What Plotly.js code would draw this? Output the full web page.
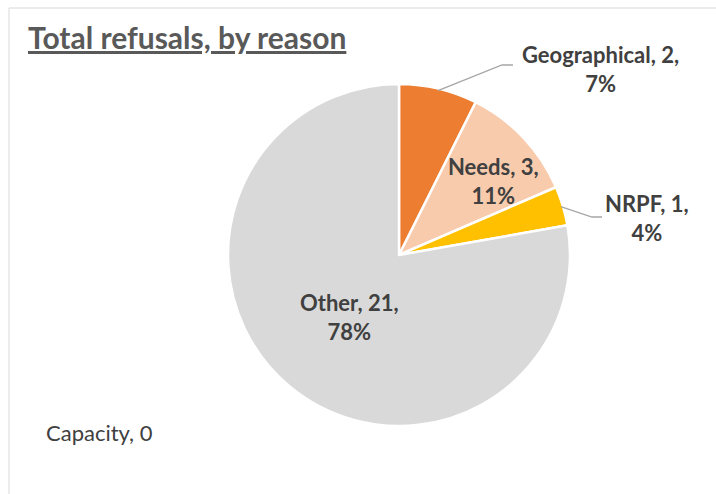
<!DOCTYPE html>
<html>
<head>
<meta charset="utf-8">
<script src="https://cdn.plot.ly/plotly-3.0.1.min.js"></script>
<style>html,body{margin:0;padding:0;background:#fff;}#chart{width:716px;height:494px;}</style>
</head>
<body>
<div id="chart"></div>
<script>
const categories = ["Capacity", "Geographical", "Needs", "NRPF", "Other"];
const values = [0, 2, 3, 1, 21];
const percentLabels = ["0%", "7%", "11%", "4%", "78%"];
const sliceColors = ["#A5A5A5", "#ED7D31", "#F8CBAD", "#FFC000", "#D9D9D9"];
const chartTitle = "Total refusals, by reason";

const W = 716, H = 494;
const px = x => x / W;
const py = y => 1 - y / H;

// pie geometry (pixels)
const cx = 399, cy = 255, R = 171;

const total = values.reduce((a, b) => a + b, 0);
const cum = [];
let acc = 0;
values.forEach(v => { cum.push(acc); acc += v; });
function midAngle(i) { return (cum[i] + values[i] / 2) / total * 2 * Math.PI; }
function edgePoint(i, r) {
  const a = midAngle(i);
  return [cx + Math.sin(a) * r, cy - Math.cos(a) * r];
}
function labelText(i) {
  return categories[i] + ", " + values[i] + ",<br>" + percentLabels[i];
}

const FAMILY = "Lato, 'Open Sans', sans-serif";
const labelFont = {family: FAMILY, size: 22, color: "#404040"};
const annotations = [];
const shapes = [];

// chart border
shapes.push({type: "rect", xref: "paper", yref: "paper", x0: px(9), x1: px(740), y0: py(8), y1: py(520),
  line: {color: "#D9D9D9", width: 1}, fillcolor: "rgba(0,0,0,0)"});

// title
annotations.push({xref: "paper", yref: "paper", x: px(26), y: py(37), xanchor: "left", yanchor: "middle",
  showarrow: false, text: "<b><u>" + chartTitle + "</u></b>",
  font: {family: FAMILY, size: 30, color: "#595959"}});

// outside labels with leader lines
const outside = {1: {lx: 600, ly: 69, ex: 502, ey: 65, hx: 513}, 3: {lx: 647, ly: 218, ex: 592, ey: 217, hx: 602}};
Object.keys(outside).forEach(k => {
  const i = +k, o = outside[k];
  const [sx, sy] = edgePoint(i, R - 2);
  shapes.push({type: "path", xref: "paper", yref: "paper",
    path: `M ${px(sx)} ${py(sy)} L ${px(o.ex)} ${py(o.ey)} L ${px(o.hx)} ${py(o.ey)}`,
    line: {color: "#A6A6A6", width: 1.3}});
  annotations.push({xref: "paper", yref: "paper", x: px(o.lx), y: py(o.ly), xanchor: "center", yanchor: "middle",
    showarrow: false, align: "center", text: "<b>" + labelText(i) + "</b>", font: labelFont});
});

// inside labels (pixel centres)
const inside = {2: [493, 181], 4: [349, 317]};
Object.keys(inside).forEach(k => {
  const i = +k;
  const [lx, ly] = inside[k];
  annotations.push({xref: "paper", yref: "paper", x: px(lx), y: py(ly), xanchor: "center", yanchor: "middle",
    showarrow: false, align: "center", text: "<b>" + labelText(i) + "</b>", font: labelFont});
});

// zero slice label
annotations.push({xref: "paper", yref: "paper", x: px(44), y: py(432), xanchor: "left", yanchor: "middle",
  showarrow: false, text: categories[0] + ", " + values[0],
  font: {family: FAMILY, size: 22, color: "#404040"}});

const trace = {
  type: "pie",
  labels: categories,
  values: values,
  sort: false,
  direction: "clockwise",
  rotation: 0,
  marker: {colors: sliceColors, line: {color: "#FFFFFF", width: 2.5}},
  textinfo: "none",
  hoverinfo: "label+value+percent",
  domain: {x: [px(cx - R), px(cx + R)], y: [py(cy + R), py(cy - R)]},
  showlegend: false
};

Plotly.newPlot("chart", [trace], {
  width: W, height: H,
  margin: {l: 0, r: 0, t: 0, b: 0},
  paper_bgcolor: "#FFFFFF",
  showlegend: false,
  annotations: annotations,
  shapes: shapes
}, {displayModeBar: false, staticPlot: true});
</script>
</body>
</html>
